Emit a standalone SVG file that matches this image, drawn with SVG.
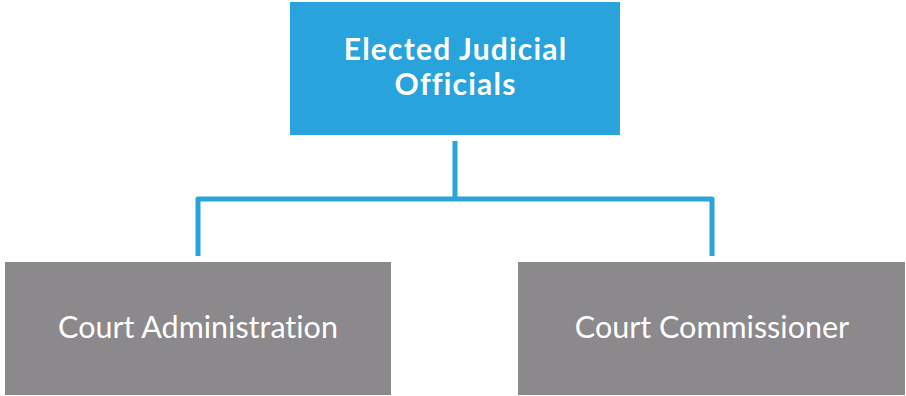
<svg xmlns="http://www.w3.org/2000/svg" width="906" height="396" viewBox="0 0 906 396">
  <style>
    .top { fill: #29A3DC; }
    .sub { fill: #8B898C; }
    .title { font-family: Lato, "Open Sans", "Liberation Sans", sans-serif; font-weight: bold; font-size: 30px; letter-spacing: 1.2px; fill: #FFFFFF; text-anchor: middle; font-variant-ligatures: none; }
    .label { font-family: Lato, "Open Sans", "Liberation Sans", sans-serif; font-size: 30.5px; fill: #FFFFFF; text-anchor: middle; font-variant-ligatures: none; }
    .link { fill: none; stroke: #29A3DC; stroke-width: 5; stroke-linejoin: round; }
  </style>
  <rect width="906" height="396" fill="#FFFFFF"/>
  <g id="connectors">
    <path class="link" d="M455 141 V199"/>
    <path class="link" d="M198 256 V199 H712 V256"/>
  </g>
  <g id="elected-judicial-officials">
    <rect class="top" x="290" y="2" width="330" height="133"/>
    <text class="title" x="455.6" y="60">Elected Judicial</text>
    <text class="title" x="455.6" y="95">Officials</text>
  </g>
  <g id="court-administration">
    <rect class="sub" x="5" y="262" width="386" height="133"/>
    <text class="label" x="198" y="338">Court Administration</text>
  </g>
  <g id="court-commissioner">
    <rect class="sub" x="518" y="262" width="387" height="133"/>
    <text class="label" x="712" y="338">Court Commissioner</text>
  </g>
</svg>
